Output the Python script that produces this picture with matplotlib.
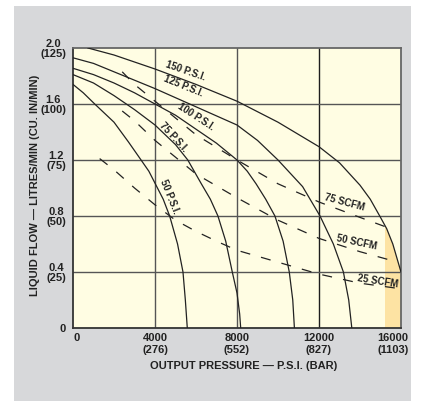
import matplotlib
matplotlib.use("Agg")
import matplotlib.pyplot as plt
import matplotlib.transforms as mtransforms
from matplotlib.patches import Rectangle, Polygon

plt.rcParams["font.family"] = ["Liberation Sans", "DejaVu Sans"]
plt.rcParams["font.weight"] = "bold"

# air pressure curves: output pressure (psi) vs liquid flow (l/min)
p150_x = [730, 2000, 4000, 6000, 8000, 10000, 12000, 13000, 14000, 14500, 15000, 15300, 15600, 16000]
p150_y = [2.0, 1.95, 1.85, 1.74, 1.62, 1.47, 1.295, 1.18, 1.02, 0.92, 0.79, 0.71, 0.6, 0.4]
p125_x = [0, 1000, 2000, 4000, 6000, 8000, 9000, 10000, 11200, 12050, 12700, 13190, 13450, 13600]
p125_y = [1.93, 1.89, 1.83, 1.71, 1.58, 1.45, 1.34, 1.2, 1.01, 0.8, 0.6, 0.4, 0.2, 0.0]
p100_x = [0, 1000, 2000, 3000, 4000, 5000, 6000, 7000, 8000, 8500, 8930, 9400, 9850, 10250, 10550, 10720, 10800]
p100_y = [1.855, 1.81, 1.75, 1.68, 1.6, 1.52, 1.42, 1.32, 1.2, 1.12, 1.03, 0.92, 0.8, 0.62, 0.4, 0.2, 0.0]
p75_x = [0, 1000, 2000, 3000, 4000, 5000, 5600, 6260, 6700, 7070, 7450, 7770, 8000, 8130, 8180]
p75_y = [1.81, 1.75, 1.66, 1.56, 1.45, 1.31, 1.2, 1.03, 0.92, 0.8, 0.62, 0.4, 0.25, 0.1, 0.0]
p50_x = [0, 500, 1060, 2000, 2700, 3320, 3700, 4050, 4400, 4715, 5100, 5365, 5480, 5575]
p50_y = [1.74, 1.68, 1.6, 1.47, 1.33, 1.2, 1.12, 1.02, 0.92, 0.8, 0.6, 0.4, 0.2, 0.0]

# air consumption curves (dashed)
c75_x = [2400, 3000, 4000, 6000, 8000, 10000, 12000, 14000, 15300]
c75_y = [1.83, 1.74, 1.62, 1.38, 1.2, 1.03, 0.9, 0.79, 0.72]
c50_x = [2400, 3000, 4000, 6000, 8000, 10000, 12000, 14000, 15600]
c50_y = [1.55, 1.48, 1.34, 1.1, 0.93, 0.77, 0.64, 0.545, 0.48]
c25_x = [1300, 2000, 3000, 4000, 5000, 6000, 7000, 8000, 10000, 12000, 14000, 16000]
c25_y = [1.21, 1.13, 1.0, 0.88, 0.77, 0.69, 0.62, 0.555, 0.47, 0.385, 0.32, 0.28]

psi_labels = ["150 P.S.I.", "125 P.S.I.", "100 P.S.I.", "75 P.S.I.", "50 P.S.I."]
psi_label_pos = [(5500, 1.835, -19), (5370, 1.725, -22), (6000, 1.51, -33),
                 (4880, 1.36, -47), (4730, 0.94, -68)]
scfm_labels = ["75 SCFM", "50 SCFM", "25 SCFM"]
scfm_label_pos = [(13250, 0.9, -15), (13850, 0.615, -12), (14880, 0.335, -9)]

xticks = [0, 4000, 8000, 12000, 16000]
xticklabels = ["0", "4000\n(276)", "8000\n(552)", "12000\n(827)", "16000\n(1103)"]
yticks = [0, 0.4, 0.8, 1.2, 1.6, 2.0]
yticklabels = ["0", "0.4\n(25)", "0.8\n(50)", "1.2\n(75)", "1.6\n(100)", "2.0\n(125)"]

shade_x0 = 15200

fig = plt.figure(figsize=(4.3, 4.01), dpi=100)
fig.add_artist(Rectangle((14 / 430, 0), 397 / 430, 395 / 401, transform=fig.transFigure,
                         facecolor="#d7d8da", edgecolor="none", zorder=-5))
ax = fig.add_axes([73 / 430, 1 - 328 / 401, 328 / 430, 280 / 401])
ax.set_facecolor("#fffde3")
ax.set_xlim(0, 16000)
ax.set_ylim(0, 2.0)

# orange zone under the 150 psi curve
under = Polygon([(0, 0), (0, 2.0)] + list(zip(p150_x, p150_y)) + [(16000, 0)],
                closed=True, transform=ax.transData)
zone = Rectangle((shade_x0, 0), 16000 - shade_x0, 2.0, facecolor="#fde3a3",
                 edgecolor="none", zorder=1)
ax.add_patch(zone)
zone.set_clip_path(under)

for v in xticks[1:-1]:
    ax.axvline(v, color="#1e1e1e" if v == 12000 else "#555555", lw=1.0, zorder=2)
for v in yticks[1:-1]:
    ax.axhline(v, color="#555555", lw=1.0, zorder=2)

for xs, ys in [(p150_x, p150_y), (p125_x, p125_y), (p100_x, p100_y),
               (p75_x, p75_y), (p50_x, p50_y)]:
    ax.plot(xs, ys, color="#222222", lw=0.9, zorder=3, solid_joinstyle="round")
for xs, ys in [(c75_x, c75_y), (c50_x, c50_y), (c25_x, c25_y)]:
    ax.plot(xs, ys, color="#222222", lw=0.9, dashes=(8, 9), zorder=3)

for txt, (x, y, r) in zip(psi_labels + scfm_labels, psi_label_pos + scfm_label_pos):
    ax.text(x, y, txt, rotation=r, rotation_mode="anchor", ha="center", va="center",
            fontsize=7, fontweight="bold", color="#222222", zorder=4)

for side in ["top", "right"]:
    ax.spines[side].set_color("#666666")
    ax.spines[side].set_linewidth(1.3)
for side in ["left", "bottom"]:
    ax.spines[side].set_color("#333333")
    ax.spines[side].set_linewidth(1.3)

ax.set_xticks(xticks)
ax.set_xticklabels(xticklabels, fontsize=8, fontweight="bold", linespacing=1.25)
ax.set_yticks(yticks)
ax.set_yticklabels(yticklabels, fontsize=8, fontweight="bold", linespacing=0.95)
ax.tick_params(length=0, colors="#222222")
ax.tick_params(axis="x", pad=3.5)
ax.tick_params(axis="y", pad=5)
for lbl in ax.get_xticklabels() + ax.get_yticklabels():
    lbl.set_multialignment("center")
xl = ax.get_xticklabels()
xl[0].set_transform(xl[0].get_transform() + mtransforms.ScaledTranslation(0.04, 0, fig.dpi_scale_trans))
xl[-1].set_transform(xl[-1].get_transform() + mtransforms.ScaledTranslation(-0.08, 0, fig.dpi_scale_trans))

fig.text(244 / 430, 1 - 366 / 401, "OUTPUT PRESSURE — P.S.I. (BAR)", ha="center", va="center",
         fontsize=8, fontweight="bold", color="#222222")
fig.text(35.5 / 430, 1 - 185 / 401, "LIQUID FLOW — LITRES/MIN (CU. IN/MIN)", ha="center",
         va="center", rotation=90, fontsize=8, fontweight="bold", color="#222222")

fig.savefig("out.png", dpi=100, facecolor="white")
